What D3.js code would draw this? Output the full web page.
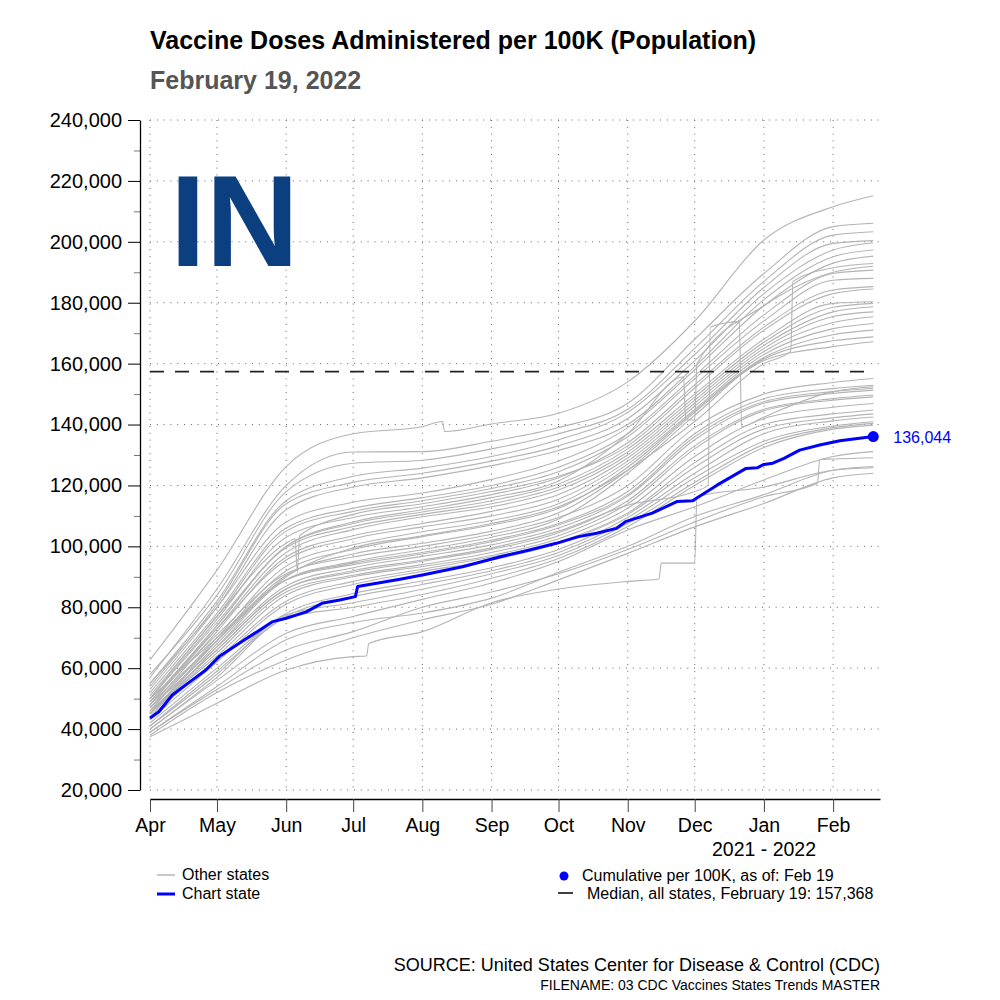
<!DOCTYPE html>
<html>
<head>
<meta charset="utf-8">
<script src="https://cdn.jsdelivr.net/npm/d3@7"></script>
<style>
  body { margin: 0; background: #fff; }
  svg { font-family: "Liberation Sans", Arial, Helvetica, sans-serif; }
</style>
</head>
<body>
<svg id="chart" width="1000" height="1000"></svg>
<script>
// doses per 100K population, in thousands
const monthDates = ['2021-04-01', '2021-05-01', '2021-06-01', '2021-07-01', '2021-08-01', '2021-09-01',
  '2021-10-01', '2021-11-01', '2021-12-01', '2022-01-01', '2022-02-01', '2022-02-19'];

// other states, one value per entry of monthDates
const otherStates = [
  [57, 86, 120, 131, 131.1, 134.5, 139, 147, 168, 189.6, 205, 206.1],
  [58, 84, 118, 127.3, 128.3, 132, 137, 145, 165, 187, 202.2, 203.3],
  [55, 82, 115, 123, 125.7, 129.5, 135, 144, 163, 185, 199.5, 200.4],
  [54, 81, 114, 121, 124, 128, 133, 142, 161, 183, 197.3, 199.7],
  [53, 80, 112, 119.5, 122.5, 126.5, 131.5, 140, 159, 181, 195.1, 197.3],
  [55, 80, 108, 114.5, 117.5, 122, 128, 139, 158, 179, 193, 195.3],
  [52, 78, 106, 112.5, 116, 120, 126, 137, 156, 176, 189.6, 190.7],
  [51, 77, 105, 111.5, 115, 119, 124.5, 136, 155, 174, 187.4, 188.0],
  [50, 76, 103, 109.5, 113, 117, 122.5, 134, 153, 172, 184.2, 185.3],
  [49, 74, 100, 107.5, 111.3, 115, 120.5, 132, 150, 168, 179.8, 180.3],
  [50, 75, 99.5, 106.5, 110.5, 114, 119.5, 131, 149, 167, 178.5, 179.8],
  [48, 73, 98, 105.5, 109.7, 113, 118.5, 130, 148, 166, 177, 178.7],
  [47, 72, 96.5, 103.5, 107.5, 111.5, 117, 129, 147, 165, 175.5, 177.0],
  [49, 73, 95.5, 102.5, 106.4, 110, 115.5, 128, 146, 164, 173.5, 175.4],
  [46, 70, 93.5, 100.5, 104.8, 108.5, 114, 127, 145, 163, 171.5, 173.2],
  [45, 69, 92, 99, 103.2, 107, 112.5, 126, 144.5, 162, 169.5, 171.0],
  [47, 69, 90.5, 97.5, 101, 105, 111, 125, 144, 161.5, 167.5, 168.8],
  [44, 67, 89, 95, 98.9, 103, 109, 124, 143, 161, 165.6, 167.2],
  [49, 71, 91, 96.5, 100, 104, 109.5, 120, 139, 150, 153.8, 155.1],
  [48, 69, 89, 94.5, 98, 102, 107.5, 118, 137, 148.5, 151.8, 152.9],
  [50, 70, 89, 94, 97.5, 101.5, 107, 117, 136, 147.5, 150.8, 151.9],
  [47, 67, 87, 93, 96.7, 100.5, 106, 116.5, 135, 147, 150.2, 151.3],
  [46, 66, 86, 91.5, 95.1, 99, 104.5, 115, 133, 145, 148.5, 149.7],
  [45, 65, 85, 90.5, 94, 98, 103.5, 114, 132, 144.5, 148, 149.1],
  [46, 64, 84, 90, 93.4, 97, 102.5, 112.5, 129.5, 142, 145.7, 146.9],
  [44, 63, 82, 88.5, 92.5, 96.5, 101.5, 111, 127.5, 140, 143.5, 144.8],
  [43, 62, 81, 87.5, 91.8, 95.5, 101, 110.5, 126, 138.5, 142.2, 143.5],
  [42, 60, 78, 84.5, 88.6, 93, 99, 109.5, 124, 137, 141.2, 142.5],
  [41, 59, 77, 83.5, 87.5, 92, 98, 108.5, 122.5, 134.5, 139.5, 140.9],
  [41, 58, 77.5, 81.5, 85.9, 91, 97, 107.5, 121, 133.5, 139, 140.4],
  [40, 57, 76.5, 80, 84.2, 89.5, 96, 106.5, 120, 132.5, 138.5, 139.8],
  [40, 56, 71.5, 77, 82.6, 88, 95, 105.4, 113, 121.8, 129.5, 131.1],
  [39, 54, 69.3, 75, 78.1, 83, 91.5, 100, 109.8, 117, 125, 126.2],
  [38, 52, 62.7, 70, 75.9, 81, 89, 97.7, 106.4, 114.1, 122.5, 124.0]
];

// other states with reporting jumps, as [date, value] pairs
const irregularStates = [
  [['2021-04-01', 62.7], ['2021-05-01', 92.2], ['2021-06-01', 126.2], ['2021-07-01', 137], ['2021-08-01', 139.3],
   ['2021-08-10', 141], ['2021-08-11', 137.7], ['2021-09-01', 140.2], ['2021-10-01', 143.7], ['2021-11-01', 154],
   ['2021-12-01', 174], ['2022-01-01', 200.6], ['2022-02-01', 211.5], ['2022-02-19', 215.1]],
  [['2021-04-01', 45], ['2021-05-01', 68], ['2021-06-01', 90], ['2021-07-01', 99.5], ['2021-08-01', 103.5],
   ['2021-09-01', 107.5], ['2021-10-01', 113], ['2021-11-01', 125], ['2021-12-01', 141], ['2022-01-01', 160],
   ['2022-01-13', 164], ['2022-01-14', 187], ['2022-02-01', 191.5], ['2022-02-19', 192.9]],
  [['2021-04-01', 48], ['2021-05-01', 74], ['2021-06-01', 100], ['2021-07-01', 108], ['2021-08-01', 112],
   ['2021-09-01', 116], ['2021-10-01', 121.5], ['2021-11-01', 137], ['2021-11-26', 155.7], ['2021-11-27', 141.5],
   ['2021-12-01', 141.5], ['2021-12-02', 160], ['2022-01-01', 179], ['2022-02-01', 190], ['2022-02-19', 192]],
  [['2021-04-01', 50], ['2021-05-01', 77], ['2021-06-01', 101], ['2021-06-05', 102.5], ['2021-06-06', 91.5],
   ['2021-06-07', 103.5], ['2021-07-01', 110.5], ['2021-08-01', 114], ['2021-09-01', 118], ['2021-10-01', 123],
   ['2021-11-01', 133], ['2021-12-01', 152], ['2022-01-01', 171], ['2022-02-01', 183], ['2022-02-19', 184.5]],
  [['2021-04-01', 45], ['2021-05-01', 66], ['2021-06-01', 86], ['2021-07-01', 92], ['2021-08-01', 95.5],
   ['2021-09-01', 99.5], ['2021-10-01', 105], ['2021-11-01', 113.5], ['2021-12-01', 118], ['2021-12-07', 120],
   ['2021-12-08', 172], ['2021-12-21', 173.8], ['2021-12-22', 139.3], ['2022-01-01', 142.5], ['2022-02-01', 150.8],
   ['2022-02-19', 152.4]],
  [['2021-04-01', 39], ['2021-05-01', 53], ['2021-06-01', 66], ['2021-07-01', 72], ['2021-08-01', 80],
   ['2021-09-01', 85], ['2021-10-01', 91], ['2021-11-01', 99], ['2021-12-01', 108], ['2022-01-01', 116.3],
   ['2022-01-25', 120.7], ['2022-01-26', 128.5], ['2022-02-01', 128.7], ['2022-02-19', 129.1]],
  [['2021-04-01', 37.5], ['2021-05-01', 48.5], ['2021-06-01', 59.4], ['2021-07-01', 63.8], ['2021-07-07', 64],
   ['2021-07-08', 68.1], ['2021-08-01', 72], ['2021-09-01', 81.5], ['2021-10-01', 86], ['2021-11-01', 88.5],
   ['2021-11-15', 89.3], ['2021-11-16', 94.5], ['2021-12-01', 94.5], ['2021-12-02', 116.3], ['2022-01-01', 119.5],
   ['2022-02-01', 125], ['2022-02-19', 125.8]]
];

// chart state (IN)
const chartState = [
  ['2021-04-01', 43.6], ['2021-04-05', 45.7], ['2021-04-11', 51.2], ['2021-04-19', 55.6], ['2021-04-26', 59.4],
  ['2021-05-02', 63.8], ['2021-05-11', 68.2], ['2021-05-19', 72.0], ['2021-05-26', 75.3], ['2021-06-01', 76.4],
  ['2021-06-10', 78.5], ['2021-06-17', 81.3], ['2021-06-25', 82.4], ['2021-07-02', 83.5], ['2021-07-03', 86.8],
  ['2021-07-22', 89.2], ['2021-08-01', 90.6], ['2021-08-19', 93.3], ['2021-09-05', 96.6], ['2021-09-18', 98.8],
  ['2021-09-30', 101.0], ['2021-10-10', 103.2], ['2021-10-18', 104.3], ['2021-10-27', 105.9], ['2021-10-31', 108.1],
  ['2021-11-06', 109.5], ['2021-11-12', 110.9], ['2021-11-23', 114.7], ['2021-11-30', 115.0], ['2021-12-11', 120.1],
  ['2021-12-24', 125.6], ['2021-12-29', 125.8], ['2022-01-01', 126.9], ['2022-01-05', 127.3], ['2022-01-10', 128.9],
  ['2022-01-17', 131.6], ['2022-01-26', 133.3], ['2022-02-04', 134.7], ['2022-02-19', 136.044]
];

const medianValue = 157.368;
const lastDate = '2022-02-19';
const yTicks = [20, 40, 60, 80, 100, 120, 140, 160, 180, 200, 220, 240];
const yMinorTicks = [30, 50, 70, 90, 110, 130, 150, 170, 190, 210, 230];

const parseDay = d3.timeParse('%Y-%m-%d');
const fmt = d3.format(',');
const svg = d3.select('#chart');

const x = d3.scaleTime()
  .domain([parseDay('2021-04-01'), parseDay('2022-02-22')])
  .range([150, 880]);
const y = d3.scaleLinear()
  .domain([20, 240])
  .range([790, 120]);

// titles
svg.append('text').attr('x', 150).attr('y', 49)
  .attr('font-size', 25).attr('font-weight', 'bold').attr('fill', '#000')
  .text('Vaccine Doses Administered per 100K (Population)');
svg.append('text').attr('x', 150).attr('y', 89)
  .attr('font-size', 25).attr('font-weight', 'bold').attr('fill', '#555')
  .text('February 19, 2022');

// dotted grid
const grid = svg.append('g')
  .attr('stroke', '#666').attr('stroke-width', 1).attr('stroke-dasharray', '1,5.8');
grid.selectAll('line.v')
  .data(x.ticks(d3.timeMonth.every(1)))
  .join('line').attr('class', 'v')
  .attr('x1', (d) => x(d)).attr('x2', (d) => x(d))
  .attr('y1', y(240)).attr('y2', y(20));
grid.selectAll('line.h')
  .data(yTicks)
  .join('line').attr('class', 'h')
  .attr('x1', 150).attr('x2', 880)
  .attr('y1', (d) => y(d)).attr('y2', (d) => y(d));

// state label
svg.append('text').attr('x', 170).attr('y', 266)
  .attr('font-size', 129).attr('font-weight', 'bold').attr('fill', '#0b3f80')
  .text('IN');

// axes
svg.append('g')
  .attr('transform', 'translate(140,0)')
  .call(d3.axisLeft(y).tickValues(yMinorTicks).tickSize(6).tickSizeOuter(0).tickFormat(''))
  .call((g) => g.select('.domain').remove())
  .call((g) => g.selectAll('.tick line').attr('stroke', '#777'));

svg.append('g')
  .attr('transform', 'translate(140,0)')
  .call(d3.axisLeft(y).tickValues(yTicks).tickSize(12).tickPadding(6).tickSizeOuter(0)
    .tickFormat((d) => fmt(d * 1000)))
  .attr('font-family', null).attr('font-size', null)
  .call((g) => g.select('.domain').attr('stroke-width', 1.3))
  .call((g) => g.selectAll('text').attr('font-size', 20).attr('fill', '#000'));

svg.append('g')
  .attr('transform', 'translate(0,799)')
  .call(d3.axisBottom(x).ticks(d3.timeMonth.every(1)).tickFormat(d3.timeFormat('%b'))
    .tickSize(13).tickPadding(6).tickSizeOuter(0))
  .attr('font-family', null).attr('font-size', null)
  .call((g) => g.select('.domain').attr('stroke-width', 1.3))
  .call((g) => g.selectAll('.tick line').attr('stroke', '#444'))
  .call((g) => g.selectAll('text').attr('font-size', 19.5).attr('fill', '#000'));

svg.append('text').attr('x', 764).attr('y', 856).attr('text-anchor', 'middle')
  .attr('font-size', 19.5).text('2021 - 2022');

// lines
const line = d3.line()
  .x((d) => x(d[0]))
  .y((d) => y(d[1]))
  .curve(d3.curveMonotoneX);

const grayData = otherStates
  .map((vals) => vals.map((v, i) => [parseDay(monthDates[i]), v]))
  .concat(irregularStates.map((s) => s.map(([d, v]) => [parseDay(d), v])));

svg.append('g')
  .selectAll('path')
  .data(grayData)
  .join('path')
  .attr('d', line)
  .attr('fill', 'none')
  .attr('stroke', '#b4b4b4')
  .attr('stroke-width', 1.1);

svg.append('line')
  .attr('x1', 150).attr('x2', x(parseDay(lastDate)))
  .attr('y1', y(medianValue)).attr('y2', y(medianValue))
  .attr('stroke', '#222').attr('stroke-width', 1.6).attr('stroke-dasharray', '14,11');

const blue = chartState.map(([d, v]) => [parseDay(d), v]);
svg.append('path')
  .datum(blue)
  .attr('d', d3.line().x((d) => x(d[0])).y((d) => y(d[1])))
  .attr('fill', 'none')
  .attr('stroke', '#0000ff')
  .attr('stroke-width', 3)
  .attr('stroke-linejoin', 'round');

const last = blue[blue.length - 1];
svg.append('circle')
  .attr('cx', x(last[0])).attr('cy', y(last[1])).attr('r', 5.5)
  .attr('fill', '#0000ff');
svg.append('text')
  .attr('x', x(last[0]) + 20).attr('y', y(last[1]) + 6)
  .attr('font-size', 16).attr('fill', '#0000ff')
  .text(fmt(Math.round(last[1] * 1000)));

// legend
const legend = svg.append('g').attr('font-size', 16).attr('fill', '#000');
legend.append('line').attr('x1', 157).attr('x2', 175).attr('y1', 875).attr('y2', 875)
  .attr('stroke', '#b4b4b4').attr('stroke-width', 1.5);
legend.append('text').attr('x', 182).attr('y', 880).text('Other states');
legend.append('line').attr('x1', 157).attr('x2', 175).attr('y1', 894).attr('y2', 894)
  .attr('stroke', '#0000ff').attr('stroke-width', 3);
legend.append('text').attr('x', 182).attr('y', 899).text('Chart state');

legend.append('circle').attr('cx', 564).attr('cy', 876).attr('r', 4.5).attr('fill', '#0000ff');
legend.append('text').attr('x', 582).attr('y', 881).text('Cumulative per 100K, as of: Feb 19');
legend.append('line').attr('x1', 558).attr('x2', 573).attr('y1', 893).attr('y2', 893)
  .attr('stroke', '#000').attr('stroke-width', 1.5);
legend.append('text').attr('x', 587).attr('y', 899)
  .text(`Median, all states, February 19: ${fmt(Math.round(medianValue * 1000))}`);

// source notes
svg.append('text').attr('x', 880).attr('y', 971).attr('text-anchor', 'end')
  .attr('font-size', 18).text('SOURCE: United States Center for Disease & Control (CDC)');
svg.append('text').attr('x', 880).attr('y', 990).attr('text-anchor', 'end')
  .attr('font-size', 14).text('FILENAME: 03 CDC Vaccines States Trends MASTER');
</script>
</body>
</html>
